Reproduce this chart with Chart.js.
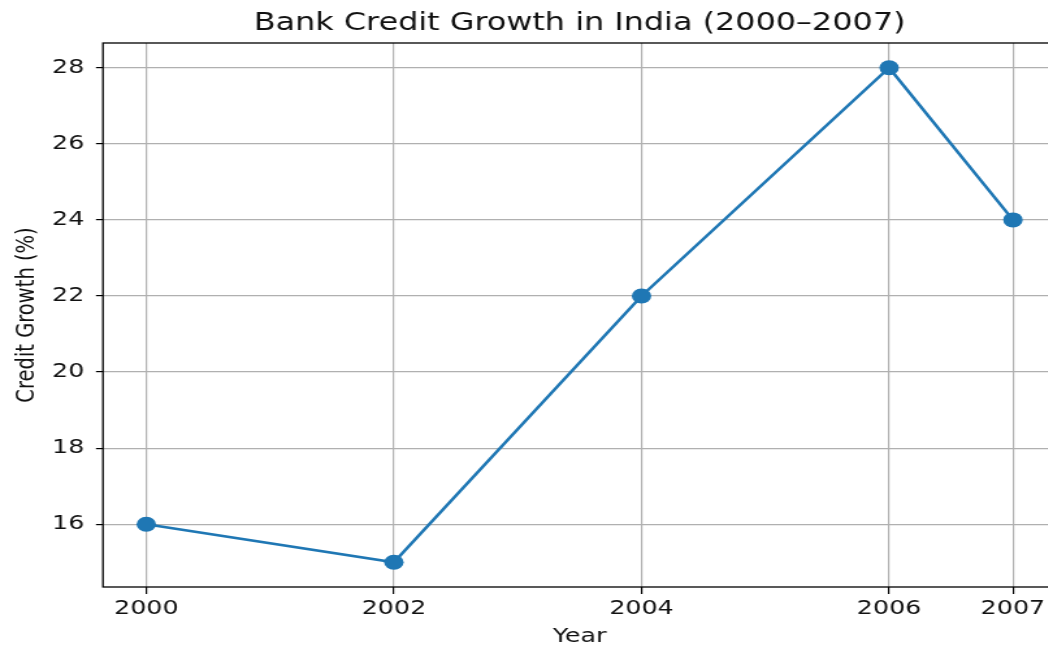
<!DOCTYPE html>
<html lang="en">
<head>
    <meta charset="UTF-8">
    <title>Bank Credit Growth in India</title>
    <script src="https://cdn.jsdelivr.net/npm/chart.js"></script>
    <style>
        html, body { margin: 0; padding: 0; background: #fff; overflow: hidden; }
        /* the source picture is stretched sideways, so the chart is too */
        #wrap { width: 820px; height: 647px; transform: scaleX(1.3); transform-origin: 0 0; }
    </style>
</head>
<body>
    <div id="wrap">
        <canvas id="growthChart"></canvas>
    </div>

    <script>
        // data
        const years = [2000, 2002, 2004, 2006, 2007];
        const growth = [16, 15, 22, 28, 24];
        const xTicks = [2000, 2002, 2004, 2006, 2007];
        const yTicks = [16, 18, 20, 22, 24, 26, 28];

        const font = "'DejaVu Sans', sans-serif";

        // black frame round the plot area
        const frame = {
            id: 'frame',
            afterDraw(chart) {
                const { ctx, chartArea: a } = chart;
                ctx.save();
                ctx.strokeStyle = '#000';
                ctx.lineWidth = 1.3;
                ctx.strokeRect(a.left, a.top, a.right - a.left, a.bottom - a.top);
                ctx.restore();
            }
        };

        const ctx = document.getElementById('growthChart').getContext('2d');
        new Chart(ctx, {
            type: 'line',
            data: {
                datasets: [{
                    label: 'Credit Growth',
                    data: years.map((y, i) => ({ x: y, y: growth[i] })),
                    borderColor: '#1f77b4',
                    backgroundColor: '#1f77b4',
                    borderWidth: 2.6,
                    pointRadius: 7.5,
                    pointBorderWidth: 0,
                    pointBackgroundColor: '#1f77b4',
                    tension: 0
                }]
            },
            options: {
                responsive: true,
                maintainAspectRatio: false,
                animation: false,
                layout: { padding: 0 },
                scales: {
                    x: {
                        type: 'linear',
                        min: 1999.65,
                        max: 2007.35,
                        afterBuildTicks: s => { s.ticks = xTicks.map(v => ({ value: v })); },
                        afterFit: s => { s.height = 60; s.paddingLeft = 0; s.paddingRight = 0; },
                        border: { display: false },
                        grid: { color: '#b0b0b0', lineWidth: 1.2, tickColor: '#000', tickLength: 7, tickWidth: 1.2 },
                        ticks: {
                            autoSkip: false, maxRotation: 0, padding: 3,
                            color: '#111', font: { family: font, size: 19.5 },
                            callback: v => String(v)
                        },
                        title: {
                            display: true, text: 'Year', color: '#111',
                            font: { family: font, size: 19.5, lineHeight: 1 },
                            padding: { top: 0, bottom: 0 }
                        }
                    },
                    y: {
                        min: 14.35,
                        max: 28.65,
                        afterBuildTicks: s => { s.ticks = yTicks.map(v => ({ value: v })); },
                        afterFit: s => { s.width = 79.2; s.paddingTop = 0; s.paddingBottom = 0; },
                        border: { display: false },
                        grid: { color: '#b0b0b0', lineWidth: 1.2, tickColor: '#000', tickLength: 5.4, tickWidth: 1.2 },
                        ticks: {
                            padding: 9, color: '#111',
                            font: { family: font, size: 19.5 }
                        },
                        title: {
                            display: true, text: 'Credit Growth (%)', color: '#111',
                            font: { family: font, size: 19.5, lineHeight: 1.2 },
                            padding: { top: 9, bottom: 0 }
                        }
                    }
                },
                plugins: {
                    legend: { display: false },
                    tooltip: { enabled: false },
                    title: {
                        display: true,
                        fullSize: false,
                        text: 'Bank Credit Growth in India (2000\u20132007)',
                        color: '#111',
                        font: { family: font, size: 24.5, weight: 'normal', lineHeight: 1.2 },
                        padding: { top: 9, bottom: 4.6 }
                    }
                }
            },
            plugins: [frame]
        });
    </script>
</body>
</html>
